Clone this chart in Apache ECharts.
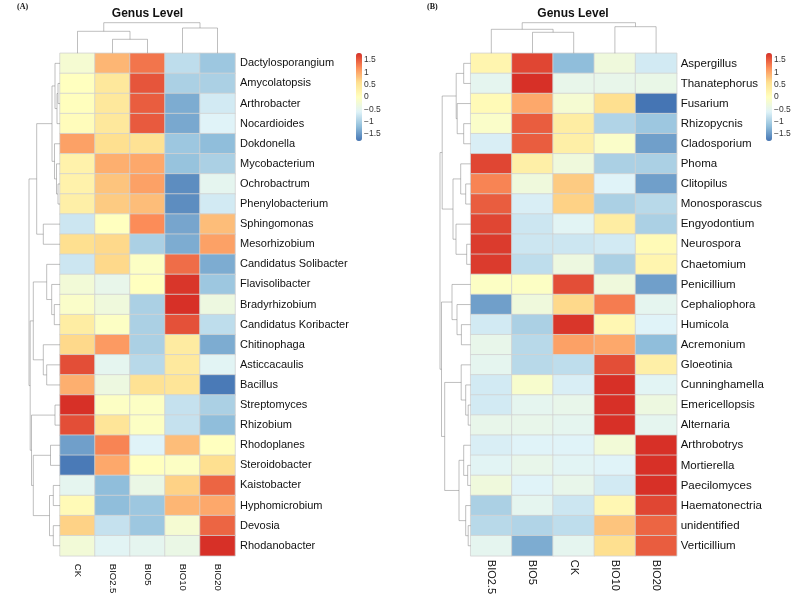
<!DOCTYPE html>
<html><head><meta charset="utf-8">
<script src="https://cdn.jsdelivr.net/npm/echarts@6/dist/echarts.min.js"></script>
<style>html,body{margin:0;padding:0;background:#fff}#c{width:800px;height:602px}</style>
</head><body><div id="c"></div>
<script>
// ---------- Panel A (bacteria) ----------
const colsA = ['CK','BIO2.5','BIO5','BIO10','BIO20'];
const rowsA = ['Dactylosporangium','Amycolatopsis','Arthrobacter','Nocardioides','Dokdonella','Mycobacterium','Ochrobactrum','Phenylobacterium','Sphingomonas','Mesorhizobium','Candidatus Solibacter','Flavisolibacter','Bradyrhizobium','Candidatus Koribacter','Chitinophaga','Asticcacaulis','Bacillus','Streptomyces','Rhizobium','Rhodoplanes','Steroidobacter','Kaistobacter','Hyphomicrobium','Devosia','Rhodanobacter'];
const valuesA = [
  [-0.2, 0.9, 1.35, -0.85, -1.1],
  [0.0, 0.45, 1.55, -1.0, -1.0],
  [0.02, 0.45, 1.5, -1.35, -0.7],
  [0.05, 0.45, 1.52, -1.38, -0.6],
  [1.05, 0.6, 0.55, -1.1, -1.2],
  [0.25, 0.95, 1.0, -1.15, -1.0],
  [0.25, 0.8, 1.05, -1.6, -0.5],
  [0.3, 0.75, 0.85, -1.6, -0.7],
  [-0.75, 0.0, 1.2, -1.4, 0.85],
  [0.6, 0.65, -1.0, -1.35, 1.05],
  [-0.75, 0.65, -0.05, 1.4, -1.35],
  [-0.25, -0.45, 0.0, 1.75, -1.1],
  [-0.1, -0.3, -1.0, 1.79, -0.35],
  [0.35, -0.05, -1.0, 1.58, -0.85],
  [0.65, 1.1, -1.0, 0.38, -1.35],
  [1.6, -0.5, -0.9, 0.42, -0.55],
  [0.95, -0.35, 0.55, 0.5, -1.75],
  [1.79, -0.05, -0.05, -0.8, -1.0],
  [1.6, 0.5, -0.05, -0.8, -1.2],
  [-1.45, 1.25, -0.6, 0.85, 0.0],
  [-1.75, 1.0, 0.0, -0.05, 0.6],
  [-0.5, -1.2, -0.4, 0.7, 1.45],
  [0.1, -1.2, -1.1, 0.9, 1.0],
  [0.7, -0.8, -1.1, -0.2, 1.45],
  [-0.25, -0.55, -0.5, -0.4, 1.79]
];
// dendrogram merges: [childA, childB, height]; number = leaf index, 'mK' = merge K
const rowMergeA = [
  [1,2,2],['m0',3,3],[0,'m1',5],[6,7,2],[5,'m3',3.5],[4,'m4',5.5],['m2','m5',8],
  [8,9,16.7],['m6','m7',23.3],[12,13,5.7],[11,'m9',8.3],[10,'m10',13.3],
  [15,16,13.3],[14,'m12',16.7],['m11','m13',26.7],[17,18,5],[19,20,9.5],
  [21,22,6.7],[23,24,6.7],['m17','m18',10.5],['m16','m19',26.7],
  ['m15','m20',28.5],['m14','m21',29.8],['m8','m22',31]
];
const colMergeA = [[1,2,14],[0,'m0',22],[3,4,25.3],['m1','m2',30.6]];

// ---------- Panel B (fungi) ----------
const colsB = ['BIO2.5','BIO5','CK','BIO10','BIO20'];
const rowsB = ['Aspergillus','Thanatephorus','Fusarium','Rhizopycnis','Cladosporium','Phoma','Clitopilus','Monosporascus','Engyodontium','Neurospora','Chaetomium','Penicillium','Cephaliophora','Humicola','Acremonium','Gloeotinia','Cunninghamella','Emericellopsis','Alternaria','Arthrobotrys','Mortierella','Paecilomyces','Haematonectria','unidentified','Verticillium'];
const valuesB = [
  [0.2, 1.65, -1.2, -0.3, -0.7],
  [-0.5, 1.79, -0.45, -0.45, -0.42],
  [0.1, 1.0, -0.2, 0.6, -1.79],
  [-0.1, 1.5, 0.35, -0.95, -1.1],
  [-0.65, 1.5, 0.3, -0.1, -1.45],
  [1.65, 0.3, -0.3, -1.0, -1.0],
  [1.25, -0.3, 0.75, -0.6, -1.45],
  [1.5, -0.65, 0.7, -1.0, -0.9],
  [1.65, -0.75, -0.55, 0.35, -1.0],
  [1.72, -0.75, -0.75, -0.7, 0.1],
  [1.72, -0.85, -0.35, -1.0, 0.2],
  [-0.05, -0.05, 1.6, -0.3, -1.45],
  [-1.45, -0.3, 0.65, 1.3, -0.5],
  [-0.7, -1.0, 1.75, 0.15, -0.6],
  [-0.45, -0.9, 1.05, 1.0, -1.2],
  [-0.5, -0.9, -0.85, 1.6, 0.3],
  [-0.7, -0.15, -0.65, 1.79, -0.55],
  [-0.7, -0.5, -0.45, 1.79, -0.35],
  [-0.45, -0.45, -0.5, 1.79, -0.5],
  [-0.65, -0.6, -0.6, -0.25, 1.79],
  [-0.55, -0.45, -0.55, -0.6, 1.79],
  [-0.3, -0.6, -0.45, -0.7, 1.79],
  [-1.0, -0.5, -0.75, 0.15, 1.65],
  [-0.9, -0.95, -0.85, 0.8, 1.45],
  [-0.5, -1.35, -0.5, 0.6, 1.5]
];
const rowMergeB = [
  [0,1,7],[3,4,7],[2,'m1',13.5],['m0','m2',14.5],[6,7,5],[5,'m4',10],
  [9,10,4],[8,'m6',14.7],['m5','m7',17.7],['m3','m8',28.5],
  [13,14,9.3],[12,'m10',13.7],[11,'m11',18.7],[17,18,2.5],[16,'m13',5],
  [15,'m14',9.5],[20,21,3],[19,'m16',7],[23,24,2.5],[22,'m18',5],
  ['m17','m19',11.7],['m15','m20',26],['m12','m21',29.2],['m9','m22',30.7]
];
const colMergeB = [[1,2,21],[0,'m0',24],[3,4,26.6],['m1','m2',30.6]];

const legendTicks = [-1.5,-1,-0.5,0,0.5,1,1.5];
const scaleMin = -1.79, scaleMax = 1.79;
const palette = ['#4575B4','#91BFDB','#E0F3F8','#FFFFBF','#FEE090','#FC8D59','#D73027'];

// ---------- helpers ----------
function heatData(vals){
  const out=[];
  vals.forEach((row,r)=>row.forEach((v,c)=>out.push([c,r,v])));
  return out;
}
// returns polylines in (pos, height) space
function dendro(merges){
  const nodes=[];
  const get=ch=> typeof ch==='number' ? {p:ch+0.5,h:0} : nodes[+ch.slice(1)];
  const segs=[];
  merges.forEach(m=>{
    const a=get(m[0]), b=get(m[1]), h=m[2];
    segs.push([[a.p,a.h],[a.p,h],[b.p,h],[b.p,b.h]]);
    nodes.push({p:(a.p+b.p)/2,h:h});
  });
  return segs;
}
const rowLines = merges => dendro(merges).map(s=>({coords:s.map(pt=>[pt[1],pt[0]])}));
const colLines = merges => dendro(merges).map(s=>({coords:s}));

const FONT='Liberation Sans, Arial, Helvetica, sans-serif';
const lineStyle={color:'#808080',width:1};
const minus = v => String(v).replace('-','\u2212');

const H_TOP=53.3, H_H=502.5;
const A_L=60, A_W=175, B_L=470.7, B_W=206;

const option={
  animation:false,
  backgroundColor:'#ffffff',
  title:[
    {text:'Genus Level',left:147.5,top:8,textAlign:'center',padding:0,textStyle:{fontSize:12,fontWeight:'bold',fontFamily:FONT,color:'#111'}},
    {text:'Genus Level',left:573,top:8,textAlign:'center',padding:0,textStyle:{fontSize:12,fontWeight:'bold',fontFamily:FONT,color:'#111'}},
    {text:'(A)',left:17,top:3,padding:0,textStyle:{fontSize:8,fontWeight:'bold',fontFamily:'Liberation Serif, serif',color:'#111'}},
    {text:'(B)',left:427,top:3,padding:0,textStyle:{fontSize:8,fontWeight:'bold',fontFamily:'Liberation Serif, serif',color:'#111'}}
  ],
  grid:[
    {left:A_L,top:H_TOP,width:A_W,height:H_H},
    {left:A_L-32,top:H_TOP,width:32,height:H_H},
    {left:A_L,top:H_TOP-33.3,width:A_W,height:33.3},
    {left:356,top:53,width:6,height:88},
    {left:B_L,top:H_TOP,width:B_W,height:H_H},
    {left:B_L-32,top:H_TOP,width:32,height:H_H},
    {left:B_L,top:H_TOP-33.3,width:B_W,height:33.3},
    {left:766,top:53,width:6,height:88}
  ],
  xAxis:[
    {gridIndex:0,type:'category',data:colsA,position:'bottom',axisLine:{show:false},axisTick:{show:false},splitLine:{show:false},
      axisLabel:{rotate:-90,fontSize:9.5,fontFamily:FONT,color:'#111',margin:8}},
    {gridIndex:1,type:'value',min:0,max:32,inverse:true,show:false},
    {gridIndex:2,type:'value',min:0,max:5,show:false},
    {gridIndex:3,type:'value',min:0,max:1,show:false},
    {gridIndex:4,type:'category',data:colsB,position:'bottom',axisLine:{show:false},axisTick:{show:false},splitLine:{show:false},
      axisLabel:{rotate:-90,fontSize:11,fontFamily:FONT,color:'#111',margin:4}},
    {gridIndex:5,type:'value',min:0,max:32,inverse:true,show:false},
    {gridIndex:6,type:'value',min:0,max:5,show:false},
    {gridIndex:7,type:'value',min:0,max:1,show:false}
  ],
  yAxis:[
    {gridIndex:0,type:'category',data:rowsA,inverse:true,position:'right',axisLine:{show:false},axisTick:{show:false},splitLine:{show:false},
      axisLabel:{fontSize:11,fontFamily:FONT,color:'#111',margin:5}},
    {gridIndex:1,type:'value',min:0,max:25,inverse:true,show:false},
    {gridIndex:2,type:'value',min:0,max:33.3,show:false},
    {gridIndex:3,type:'value',min:scaleMin,max:scaleMax,position:'right',axisLine:{show:false},axisTick:{show:false},splitLine:{show:false},
      axisLabel:{customValues:legendTicks,formatter:minus,fontSize:8.5,fontFamily:FONT,color:'#333',margin:2}},
    {gridIndex:4,type:'category',data:rowsB,inverse:true,position:'right',axisLine:{show:false},axisTick:{show:false},splitLine:{show:false},
      axisLabel:{fontSize:11.5,fontFamily:FONT,color:'#111',margin:4}},
    {gridIndex:5,type:'value',min:0,max:25,inverse:true,show:false},
    {gridIndex:6,type:'value',min:0,max:33.3,show:false},
    {gridIndex:7,type:'value',min:scaleMin,max:scaleMax,position:'right',axisLine:{show:false},axisTick:{show:false},splitLine:{show:false},
      axisLabel:{customValues:legendTicks,formatter:minus,fontSize:8.5,fontFamily:FONT,color:'#333',margin:2}}
  ],
  visualMap:[
    {type:'continuous',seriesIndex:0,min:scaleMin,max:scaleMax,left:356,top:53,itemWidth:6,itemHeight:88,padding:0,
      calculable:false,hoverLink:false,text:null,inRange:{color:palette}},
    {type:'continuous',seriesIndex:3,min:scaleMin,max:scaleMax,left:766,top:53,itemWidth:6,itemHeight:88,padding:0,
      calculable:false,hoverLink:false,text:null,inRange:{color:palette}}
  ],
  series:[
    {type:'heatmap',xAxisIndex:0,yAxisIndex:0,data:heatData(valuesA),itemStyle:{borderColor:'#d2d2d2',borderWidth:0.8},silent:true},
    {type:'lines',coordinateSystem:'cartesian2d',xAxisIndex:1,yAxisIndex:1,polyline:true,silent:true,lineStyle:lineStyle,data:rowLines(rowMergeA)},
    {type:'lines',coordinateSystem:'cartesian2d',xAxisIndex:2,yAxisIndex:2,polyline:true,silent:true,lineStyle:lineStyle,data:colLines(colMergeA)},
    {type:'heatmap',xAxisIndex:4,yAxisIndex:4,data:heatData(valuesB),itemStyle:{borderColor:'#d2d2d2',borderWidth:0.8},silent:true},
    {type:'lines',coordinateSystem:'cartesian2d',xAxisIndex:5,yAxisIndex:5,polyline:true,silent:true,lineStyle:lineStyle,data:rowLines(rowMergeB)},
    {type:'lines',coordinateSystem:'cartesian2d',xAxisIndex:6,yAxisIndex:6,polyline:true,silent:true,lineStyle:lineStyle,data:colLines(colMergeB)}
  ]
};
const chart=echarts.init(document.getElementById('c'),null,{renderer:'canvas'});
chart.setOption(option);
</script>
</body></html>
